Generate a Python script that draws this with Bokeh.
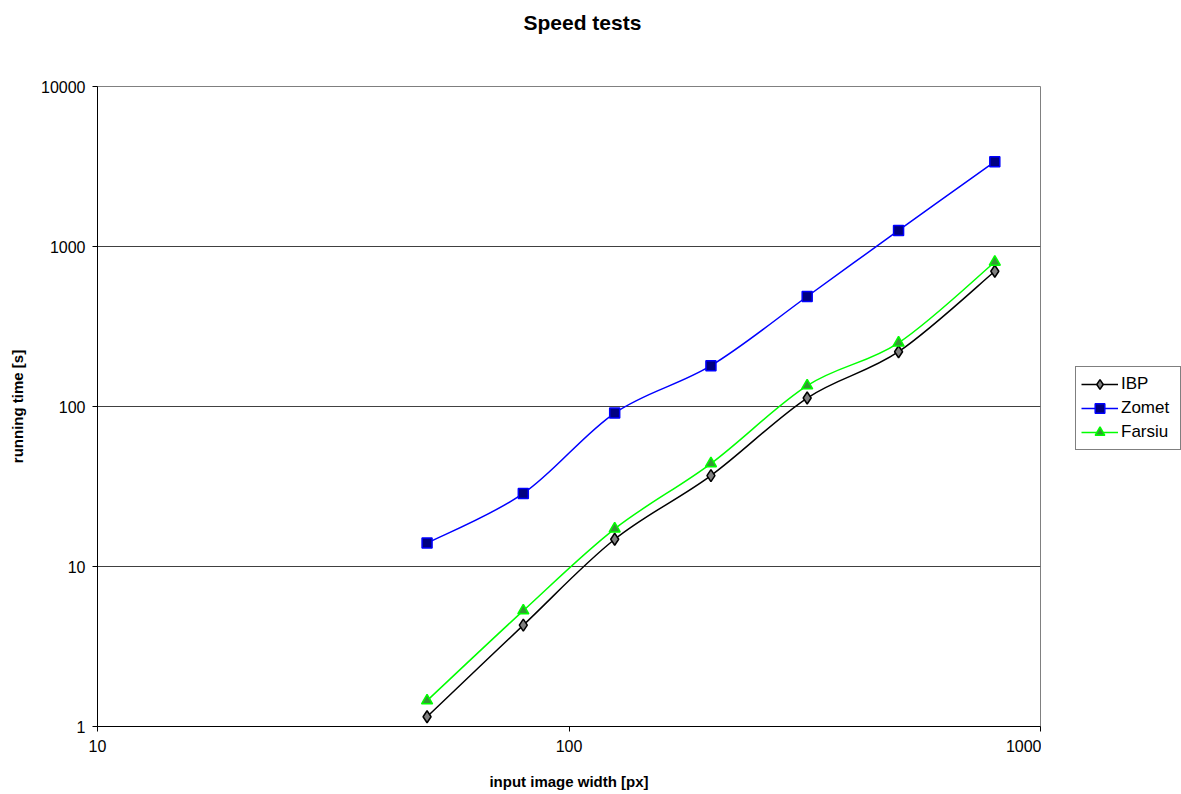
import numpy as np
from bokeh.plotting import figure
from bokeh.layouts import row
from bokeh.models import FixedTicker, NumeralTickFormatter, Legend, LegendItem, ColumnDataSource
from bokeh.embed import file_html
from bokeh.resources import INLINE

widths = [50, 80, 125, 200, 320, 500, 800]
ibp = [1.15, 4.3, 14.8, 37, 113, 220, 700]
zomet = [14, 28.6, 91, 180, 487, 1260, 3390]
farsiu = [1.45, 5.3, 17.2, 44, 135, 250, 800]
x_ticks = [10, 100, 1000]
y_ticks = [1, 10, 100, 1000, 10000]

FONT = "Liberation Sans"

p = figure(frame_width=943, frame_height=640, x_axis_type="log", y_axis_type="log",
           x_range=(10, 1000), y_range=(1, 10000),
           output_backend="svg", toolbar_location=None,
           min_border_left=97, min_border_right=1, min_border_top=86, min_border_bottom=68)

p.title.text = "Speed tests\n \n "
p.title.align = "left"
p.title.offset = 426
p.title.vertical_align = "top"
p.title.text_font = FONT
p.title.text_font_size = "21px"
p.title.text_font_style = "bold"
p.title.text_color = "black"
p.title.text_line_height = 0.9
p.title.standoff = 20

for ax, ticks in ((p.xaxis[0], x_ticks), (p.yaxis[0], y_ticks)):
    ax.ticker = FixedTicker(ticks=ticks, minor_ticks=[])
    ax.formatter = NumeralTickFormatter(format="0")
    ax.major_label_text_font = FONT
    ax.major_label_text_font_size = "16px"
    ax.major_label_text_color = "black"
    ax.axis_label_text_font = FONT
    ax.axis_label_text_font_size = "15px"
    ax.axis_label_text_font_style = "bold"
    ax.axis_label_text_color = "black"
    ax.axis_line_color = "black"
    ax.major_tick_line_color = "black"
    ax.major_tick_out = 5
    ax.major_tick_in = 0
    ax.minor_tick_line_color = None

p.xaxis.axis_label = "input image width [px]"
p.yaxis.axis_label = "running time [s]"
p.xaxis.major_label_standoff = 8
p.xaxis.axis_label_standoff = 18
p.yaxis.major_label_standoff = 7
p.yaxis.axis_label_standoff = 12

p.xgrid.grid_line_color = None
p.ygrid.grid_line_color = "#404040"
p.ygrid.grid_line_width = 1
p.outline_line_color = "#808080"
p.background_fill_color = "white"
p.border_fill_color = "white"


def smooth_segments(xs, ys):
    lx = np.log10(np.array(xs, dtype=float))
    ly = np.log10(np.array(ys, dtype=float))
    n = len(lx)
    d = dict(x0=[], y0=[], x1=[], y1=[], cx0=[], cy0=[], cx1=[], cy1=[])
    for i in range(n - 1):
        im = max(i - 1, 0)
        ip2 = min(i + 2, n - 1)
        c1x = lx[i] + (lx[i + 1] - lx[im]) / 6
        c1y = ly[i] + (ly[i + 1] - ly[im]) / 6
        c2x = lx[i + 1] - (lx[ip2] - lx[i]) / 6
        c2y = ly[i + 1] - (ly[ip2] - ly[i]) / 6
        d["x0"].append(10 ** lx[i]); d["y0"].append(10 ** ly[i])
        d["x1"].append(10 ** lx[i + 1]); d["y1"].append(10 ** ly[i + 1])
        d["cx0"].append(10 ** c1x); d["cy0"].append(10 ** c1y)
        d["cx1"].append(10 ** c2x); d["cy1"].append(10 ** c2y)
    return ColumnDataSource(d)


series = [
    ("IBP", ibp, "black", "diamond", "#808080", "black", 12),
    ("Zomet", zomet, "#0000ff", "square", "#000080", "#0000ff", 10),
    ("Farsiu", farsiu, "#00ff00", "triangle", "#339933", "#00ff00", 11),
]

# narrow companion figure that carries the legend at the right of the chart
lf = figure(width=140, height=794, x_range=(0, 1), y_range=(0, 1),
            x_axis_location=None, y_axis_location=None,
            output_backend="svg", toolbar_location=None,
            min_border_left=0, min_border_right=0, min_border_top=0, min_border_bottom=0)
lf.outline_line_color = None
lf.xgrid.grid_line_color = None
lf.ygrid.grid_line_color = None
lf.background_fill_color = "white"
lf.border_fill_color = "white"

leg_items = []
for name, ys, lc, marker, fc, mlc, size in series:
    src = smooth_segments(widths, ys)
    p.bezier(x0="x0", y0="y0", x1="x1", y1="y1", cx0="cx0", cy0="cy0",
             cx1="cx1", cy1="cy1", source=src, line_color=lc, line_width=1.5)
    p.scatter(x=widths, y=ys, marker=marker, size=size, fill_color=fc,
              line_color=mlc, line_width=1.5)
    # legend proxies: same data, lying outside this small figure's (0..1) range
    lr = lf.line(x=widths, y=ys, line_color=lc, line_width=1.5)
    sr = lf.scatter(x=widths, y=ys, marker=marker, size=size, fill_color=fc,
                    line_color=mlc, line_width=1.5)
    leg_items.append(LegendItem(label=name, renderers=[lr, sr]))

legend = Legend(items=leg_items, location=(34, 276))
legend.label_text_font = FONT
legend.label_text_font_size = "17px"
legend.label_text_color = "black"
legend.border_line_color = "black"
legend.border_line_width = 1
legend.background_fill_color = "white"
legend.background_fill_alpha = 1
legend.glyph_width = 37
legend.glyph_height = 24
legend.label_height = 24
legend.label_width = 54
legend.spacing = 0
legend.padding = 5
legend.label_standoff = 3
legend.margin = 0
lf.add_layout(legend)

layout = row(p, lf)
open("out.html", "w").write(file_html(layout, INLINE))
